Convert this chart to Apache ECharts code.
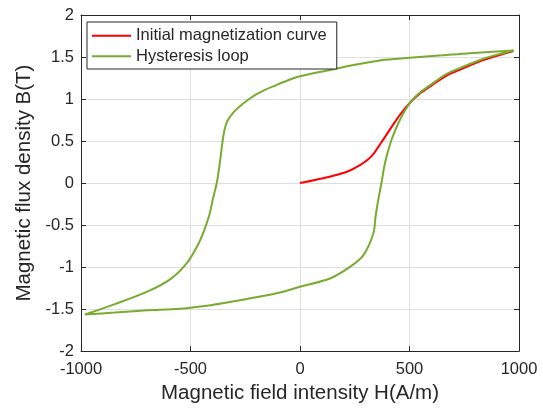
<!DOCTYPE html>
<html>
<head>
<meta charset="utf-8">
<script src="https://cdn.jsdelivr.net/npm/echarts@6/dist/echarts.min.js"></script>
<style>
  html, body { margin: 0; padding: 0; background: #fff; }
  #container { width: 543px; height: 409px; }
</style>
</head>
<body>
<div id="container"></div>
<script>
// initial magnetization curve
var initH = [0, 75, 152, 220, 274, 310, 335, 360, 381, 420, 457, 502, 548, 600, 670, 750, 822, 900, 975];
var initB = [0, 0.04, 0.086, 0.14, 0.213, 0.28, 0.343, 0.44, 0.52, 0.675, 0.815, 0.955, 1.065, 1.16, 1.28, 1.37, 1.45, 1.515, 1.572];

// hysteresis loop: upper (descending) branch then lower (ascending) branch
var loopH = [975, 776, 650, 500, 370, 228, 125, 0, -57, -114, -160, -200, -243, -274, -304, -335, -350, -365, -380, -396, -415, -440, -467, -513, -590, -695, -848, -982,
             -848, -700, -548, -400, -315, -200, -87, 0, 137, 228, 289, 335, 345, 358, 372, 385, 400, 420, 457, 502, 548, 600, 670, 750, 822, 900, 975];
var loopB = [1.578, 1.546, 1.52, 1.49, 1.462, 1.396, 1.34, 1.27, 1.22, 1.16, 1.11, 1.055, 0.98, 0.915, 0.84, 0.72, 0.56, 0.26, 0.0, -0.17, -0.39, -0.58, -0.74, -0.94, -1.14, -1.29, -1.444, -1.565,
             -1.542, -1.515, -1.495, -1.45, -1.412, -1.36, -1.30, -1.235, -1.136, -0.998, -0.86, -0.6, -0.4, -0.19, 0.0, 0.2, 0.36, 0.53, 0.757, 0.955, 1.078, 1.175, 1.3, 1.39, 1.465, 1.528, 1.578];

var xTicks = [-1000, 1000, 500];   // min, max, interval
var yTicks = [-2, 2, 0.5];

var seriesNames = ['Initial magnetization curve', 'Hysteresis loop'];
var xTitle = 'Magnetic field intensity H(A/m)';
var yTitle = 'Magnetic flux density B(T)';

var toPairs = function(hs, bs){
    var out = [];
    for (var i = 0; i < hs.length; i++) out.push([hs[i], bs[i]]);
    return out;
};

var font = "'Liberation Sans', Arial, sans-serif";
var axisColor = '#262626';
var plain = function(v){ return String(v); };

var dom = document.getElementById('container');
var myChart = echarts.init(dom, null, {renderer: 'canvas'});

var mainX = {
    type: 'value', min: xTicks[0], max: xTicks[1], interval: xTicks[2],
    position: 'bottom',
    name: xTitle, nameLocation: 'middle', nameGap: 30,
    nameTextStyle: {color: axisColor, fontSize: 20.5, fontFamily: font},
    axisLine: {show: true, onZero: false, lineStyle: {color: axisColor, width: 1}},
    axisTick: {show: true, inside: true, length: 5, lineStyle: {color: axisColor}},
    axisLabel: {color: axisColor, fontSize: 16.5, fontFamily: font, margin: 10, formatter: plain},
    splitLine: {show: true, lineStyle: {color: '#dfdfdf', width: 1}}
};
var mainY = {
    type: 'value', min: yTicks[0], max: yTicks[1], interval: yTicks[2],
    position: 'left',
    name: yTitle, nameLocation: 'middle', nameGap: 43,
    nameTextStyle: {color: axisColor, fontSize: 20.5, fontFamily: font},
    axisLine: {show: true, onZero: false, lineStyle: {color: axisColor, width: 1}},
    axisTick: {show: true, inside: true, length: 5, lineStyle: {color: axisColor}},
    axisLabel: {color: axisColor, fontSize: 16.5, fontFamily: font, margin: 7, formatter: plain},
    splitLine: {show: true, lineStyle: {color: '#dfdfdf', width: 1}}
};
var boxX = {
    type: 'value', min: xTicks[0], max: xTicks[1], interval: xTicks[2],
    position: 'top',
    axisLine: {show: true, onZero: false, lineStyle: {color: axisColor, width: 1}},
    axisTick: {show: true, inside: true, length: 5, lineStyle: {color: axisColor}},
    axisLabel: {show: false}, splitLine: {show: false}
};
var boxY = {
    type: 'value', min: yTicks[0], max: yTicks[1], interval: yTicks[2],
    position: 'right',
    axisLine: {show: true, onZero: false, lineStyle: {color: axisColor, width: 1}},
    axisTick: {show: true, inside: true, length: 5, lineStyle: {color: axisColor}},
    axisLabel: {show: false}, splitLine: {show: false}
};

var option = {
    animation: false,
    backgroundColor: '#ffffff',
    grid: {left: 81, top: 15, right: 24, bottom: 56, containLabel: false},
    legend: {
        orient: 'vertical', left: 87, top: 22,
        data: [
            {name: seriesNames[0], icon: 'rect', itemStyle: {color: '#ff0000'}},
            {name: seriesNames[1], icon: 'rect', itemStyle: {color: '#77ac30'}}
        ],
        itemWidth: 39, itemHeight: 2, itemGap: 3,
        padding: [5, 10, 4, 5],
        backgroundColor: '#ffffff',
        borderColor: axisColor, borderWidth: 1, borderRadius: 0,
        textStyle: {color: axisColor, fontSize: 16.5, fontFamily: font, lineHeight: 17.5}
    },
    xAxis: [mainX, boxX],
    yAxis: [mainY, boxY],
    series: [
        {
            name: seriesNames[0], type: 'line', xAxisIndex: 0, yAxisIndex: 0,
            data: toPairs(initH, initB),
            symbol: 'none', smooth: 0.3,
            lineStyle: {color: '#ff0000', width: 2},
            itemStyle: {color: '#ff0000'}
        },
        {
            name: seriesNames[1], type: 'line', xAxisIndex: 0, yAxisIndex: 0,
            data: toPairs(loopH, loopB),
            symbol: 'none', smooth: 0.3,
            lineStyle: {color: '#77ac30', width: 2},
            itemStyle: {color: '#77ac30'}
        }
    ]
};

myChart.setOption(option, true);
</script>
</body>
</html>
